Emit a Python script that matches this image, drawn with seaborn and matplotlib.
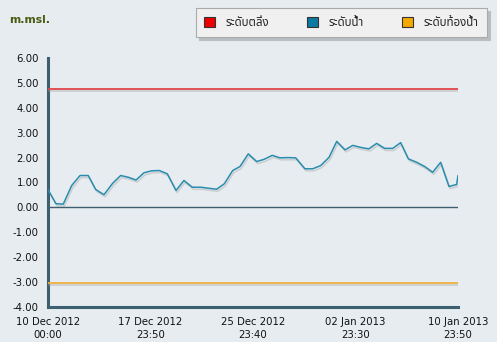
import matplotlib
matplotlib.use("Agg")
import matplotlib.pyplot as plt
import matplotlib.patheffects as pe
from matplotlib.patches import Patch
import seaborn as sns
import pandas as pd
import numpy as np

# ---- data ----
day_offsets = [0, 0.62, 1.19, 1.85, 2.50, 3.14, 3.72, 4.37, 5.05, 5.67, 6.27, 6.87,
               7.49, 8.09, 8.69, 9.31, 9.99, 10.61, 11.26, 11.92, 12.51, 13.16, 13.76,
               14.41, 14.98, 15.63, 16.29, 16.86, 17.50, 18.10, 18.70, 19.33, 20.05,
               20.66, 21.28, 21.93, 22.53, 23.18, 23.78, 24.40, 25.03, 25.65, 26.27,
               26.90, 27.52, 28.12, 28.77, 29.40, 30.02, 30.64, 31.29, 31.89, 31.99]
water_level = [0.71, 0.15, 0.13, 0.88, 1.28, 1.28, 0.72, 0.51, 0.97, 1.28, 1.21, 1.10,
               1.39, 1.47, 1.48, 1.35, 0.68, 1.08, 0.81, 0.81, 0.77, 0.73, 0.95,
               1.48, 1.64, 2.15, 1.84, 1.93, 2.09, 1.99, 2.00, 1.99, 1.55,
               1.55, 1.68, 2.01, 2.65, 2.31, 2.49, 2.41, 2.35, 2.57, 2.37,
               2.37, 2.60, 1.95, 1.81, 1.64, 1.41, 1.81, 0.84, 0.92, 1.28]
bank_level = 4.74
bed_level = -3.03
zero_level = 0.0
start_time = "2012-12-10 00:00"
end_time = "2013-01-10 23:50"
tick_times = ["2012-12-10 00:00", "2012-12-17 23:50", "2012-12-25 23:40",
              "2013-01-02 23:30", "2013-01-10 23:50"]
tick_labels = ["10 Dec 2012\n00:00", "17 Dec 2012\n23:50", "25 Dec 2012\n23:40",
               "02 Jan 2013\n23:30", "10 Jan 2013\n23:50"]
y_ticks = [6, 5, 4, 3, 2, 1, 0, -1, -2, -3, -4]
legend_labels = ["ระดับตลิ่ง", "ระดับน้ำ", "ระดับท้องน้ำ"]
legend_colors = ["#ee0000", "#0a7aa0", "#f5a800"]
unit_label = "m.msl."

# ---- build ----
t0 = pd.Timestamp(start_time)
times = [t0 + pd.Timedelta(days=d) for d in day_offsets]
df = pd.DataFrame({"time": times, "level": water_level})

sns.set_theme(style="white")
thai_fonts = ["Tahoma", "Noto Sans Thai", "Noto Sans Thai UI", "Loma", "Garuda",
              "Norasi", "Leelawadee UI", "DejaVu Sans"]
plt.rcParams["font.family"] = ["DejaVu Sans"]

bg = "#e6ecef"
fig = plt.figure(figsize=(4.97, 3.42), dpi=100, facecolor=bg)
ax = fig.add_axes([48 / 497, 35 / 342, 410 / 497, 249 / 342], facecolor=bg)

t_end = pd.Timestamp(end_time)
ax.hlines(bank_level, t0, t_end, color="#e0454a", lw=1.3, zorder=3,
          path_effects=[pe.SimpleLineShadow(offset=(0, -1.5), shadow_color="#999999", alpha=0.35),
                        pe.Normal()])
ax.hlines(bed_level, t0, t_end, color="#f0b040", lw=1.3, zorder=3,
          path_effects=[pe.SimpleLineShadow(offset=(0, -1.5), shadow_color="#999999", alpha=0.35),
                        pe.Normal()])
ax.hlines(zero_level, t0, t_end, color="#3d6070", lw=1.0, zorder=2)

sns.lineplot(data=df, x="time", y="level", ax=ax, color="#2a8cad", lw=1.1, zorder=4,
             path_effects=[pe.SimpleLineShadow(offset=(0.8, -1.5), shadow_color="#888888", alpha=0.3),
                           pe.Normal()])

ax.set_xlim(t0, t_end)
ax.set_ylim(-4, 6)
ax.set_yticks(y_ticks)
ax.set_yticklabels([f"{v:.2f}" for v in y_ticks])
ax.set_xticks([pd.Timestamp(t) for t in tick_times])
ax.set_xticklabels(tick_labels, linespacing=1.35)
ax.set_xlabel("")
ax.set_ylabel("")

for s in ["top", "right"]:
    ax.spines[s].set_visible(False)
for s in ["left", "bottom"]:
    ax.spines[s].set_color("#3d6070")
    ax.spines[s].set_linewidth(2.2)
ax.tick_params(axis="both", which="major", length=5, width=2, color="#3d6070",
               labelsize=7.3, labelcolor="#111111", pad=1.5, direction="out")
ax.tick_params(axis="x", pad=2)

fig.text(9 / 497, 1 - 20 / 342, unit_label, fontsize=7.8, fontweight="bold",
         color="#4a5a10", va="center", ha="left", family="DejaVu Sans")

handles = [Patch(facecolor=c, edgecolor="#333333", lw=0.8) for c in legend_colors]
leg = fig.legend(handles, legend_labels, ncol=3, loc="upper right",
                 bbox_to_anchor=(487 / 497, 1 - 8 / 342), borderaxespad=0.0,
                 frameon=True, fancybox=False,
                 shadow={"color": "#b8bec2", "alpha": 1.0},
                 prop={"family": thai_fonts, "size": 8.3},
                 handlelength=0.95, handleheight=1.0,
                 handletextpad=0.9, columnspacing=3.3, borderpad=0.75)
leg.get_frame().set_facecolor("#f0f0f0")
leg.get_frame().set_edgecolor("#aaaaaa")
leg.get_frame().set_linewidth(0.8)

fig.savefig("out.png", dpi=100, facecolor=bg)
